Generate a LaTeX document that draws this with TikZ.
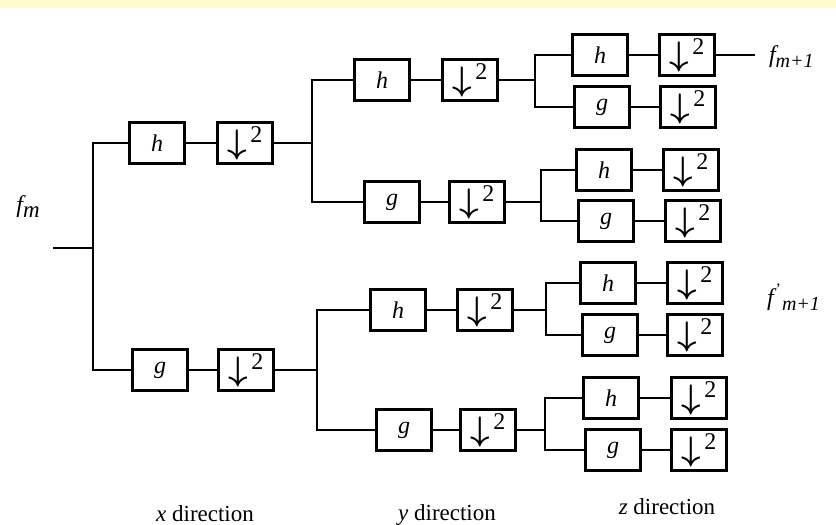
\documentclass[tikz,border=0pt]{standalone}
\usepackage{amsmath}
\usepackage{graphicx}
\usepackage{fontspec}
\setmainfont{Liberation Serif}
\definecolor{stripyellow}{RGB}{255,251,208}
% downsampling-by-two symbol: bold arrow followed by a raised 2
\newcommand{\downbytwo}{%
  \raisebox{-3pt}{\scalebox{3.4}{$\boldsymbol{\downarrow}$}}%
  \hspace{3pt}\raisebox{8pt}{\fontsize{24}{24}\selectfont 2}}
\begin{document}
\begin{tikzpicture}[x=1pt,y=-1pt,line width=2.1pt,
  filt/.style={draw,minimum width=55pt,minimum height=41pt,inner sep=0pt,
    font=\fontsize{24}{24}\selectfont\itshape},
  down/.style={draw,minimum width=55pt,minimum height=41pt,inner sep=0pt},
  dirlabel/.style={anchor=base,inner sep=0pt,font=\fontsize{23}{23}\selectfont},
  siglabel/.style={inner sep=0pt,font=\fontsize{24}{24}\selectfont\itshape}]
\useasboundingbox (0,0) rectangle (836,525);
\fill[white] (0,0) rectangle (836,525);
\fill[stripyellow] (0,0) rectangle (836,8);

% ---- x direction ----
\coordinate (in) at (53,248);
\coordinate (j0) at (93,248);
\node[filt] (h1) at (157,143) {h};
\node[down] (d1) at (245,143) {\downbytwo};
\node[filt] (g1) at (160,370) {g};
\node[down] (d2) at (246,370) {\downbytwo};
\draw (in) -- (j0);
\draw (h1.west) -| (j0) |- (g1.west);
\draw (h1) -- (d1);
\draw (g1) -- (d2);

% ---- y direction ----
\coordinate (jA) at (312,143);
\node[filt] (hA) at (382,80) {h};
\node[down] (dA) at (470,80) {\downbytwo};
\node[filt] (gA) at (392,202) {g};
\node[down] (dA2) at (477,202) {\downbytwo};
\draw (d1) -- (jA);
\draw (hA.west) -| (jA) |- (gA.west);
\draw (hA) -- (dA);
\draw (gA) -- (dA2);

\coordinate (jB) at (317,370);
\node[filt] (hB) at (398,310) {h};
\node[down] (dB) at (485,310) {\downbytwo};
\node[filt] (gB) at (404,430) {g};
\node[down] (dB2) at (488,430) {\downbytwo};
\draw (d2) -- (jB);
\draw (hB.west) -| (jB) |- (gB.west);
\draw (hB) -- (dB);
\draw (gB) -- (dB2);

% ---- z direction ----
\coordinate (jC) at (535,80);
\node[filt] (hC) at (600,55) {h};
\node[down] (dCa) at (687,55) {\downbytwo};
\node[filt] (gC) at (602,107) {g};
\node[down] (dCb) at (688,107) {\downbytwo};
\draw (dA) -- (jC);
\draw (hC.west) -| (jC) |- (gC.west);
\draw (hC) -- (dCa);
\draw (gC) -- (dCb);

\coordinate (jD) at (541,202);
\node[filt] (hD) at (604,170) {h};
\node[down] (dDa) at (691,170) {\downbytwo};
\node[filt] (gD) at (606,221) {g};
\node[down] (dDb) at (693,221) {\downbytwo};
\draw (dA2) -- (jD);
\draw (hD.west) -| (jD) |- (gD.west);
\draw (hD) -- (dDa);
\draw (gD) -- (dDb);

\coordinate (jE) at (546,310);
\node[filt] (hE) at (608,283) {h};
\node[down] (dEa) at (695,283) {\downbytwo};
\node[filt] (gE) at (610,335) {g};
\node[down] (dEb) at (695,335) {\downbytwo};
\draw (dB) -- (jE);
\draw (hE.west) -| (jE) |- (gE.west);
\draw (hE) -- (dEa);
\draw (gE) -- (dEb);

\coordinate (jF) at (545,430);
\node[filt] (hF) at (611,398) {h};
\node[down] (dFa) at (699,398) {\downbytwo};
\node[filt] (gF) at (613,450) {g};
\node[down] (dFb) at (699,450) {\downbytwo};
\draw (dB2) -- (jF);
\draw (hF.west) -| (jF) |- (gF.west);
\draw (hF) -- (dFa);
\draw (gF) -- (dFb);

% ---- output and signal labels ----
\coordinate (out) at (755,55);
\draw (dCa) -- (out);
\node[siglabel,anchor=west] (fnext) at (768,57)
  {f\raisebox{-5pt}{\fontsize{20}{20}\selectfont m+1}};
\node[siglabel,anchor=west] (fnextp) at (766,297)
  {f\kern2pt\raisebox{11pt}{\fontsize{16}{16}\selectfont\upshape '}\kern1pt\raisebox{-5pt}{\fontsize{20}{20}\selectfont m+1}};
\node[siglabel] (fm) at (28,207)
  {f\raisebox{-5pt}{\fontsize{23}{23}\selectfont m}};

% ---- direction captions ----
\node[dirlabel] (xdir) at (205,521) {\textit{x} direction};
\node[dirlabel] (ydir) at (447,520) {\textit{y} direction};
\node[dirlabel] (zdir) at (667,514) {\textit{z} direction};
\end{tikzpicture}
\end{document}
